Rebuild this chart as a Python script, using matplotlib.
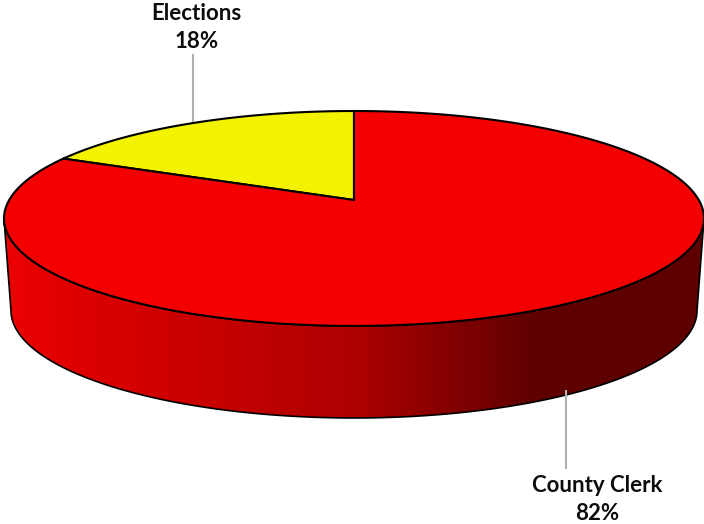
import matplotlib
matplotlib.use('Agg')
import matplotlib.pyplot as plt
import numpy as np
from matplotlib.colors import LinearSegmentedColormap
from matplotlib.patches import Polygon

names = ['Elections', 'County Clerk']
shares = [18, 82]
colors = ['#f3f300', '#f40000']

plt.rcParams['font.family'] = ['Lato', 'DejaVu Sans']

# perspective of the pie top, in pixels of the picture
cx, cy = 354, 200
k, b = 0.172, -69.9
c = 344.8
depth = 92


def project(theta, scale=1.0, drop=0):
    # theta measured from the top of the pie, going to the left
    u = -np.sin(theta)
    v = np.cos(theta)
    w = 1 + k * v
    return cx + scale * c * u / w, (cy + b * v) / w + drop


fig = plt.figure(figsize=(7.04, 5.24), dpi=100)
ax = fig.add_axes([0, 0, 1, 1])
ax.set_xlim(0, 704)
ax.set_ylim(524, 0)
ax.axis('off')

# side wall, gradient clipped to the outline
t = np.linspace(0, 2 * np.pi, 721)
tx, ty = project(t)
bx, by = project(t, scale=0.98, drop=depth)
left = np.argmin(tx)
right = np.argmax(tx)
front_top = np.column_stack([tx[left:right + 1], ty[left:right + 1]])
bl = np.argmin(bx)
br = np.argmax(bx)
front_bot = np.column_stack([bx[bl:br + 1], by[bl:br + 1]])
wall_xy = np.vstack([front_top, front_bot[::-1]])
wall = Polygon(wall_xy, closed=True, facecolor='none', edgecolor='black', lw=1.2, zorder=3)
ax.add_patch(wall)

cmap = LinearSegmentedColormap.from_list('wall', [
    (0.0, '#ec0000'), (0.25, '#cc0000'), (0.5, '#ae0000'),
    (0.76, '#5e0000'), (1.0, '#5e0000')])
img = ax.imshow(np.linspace(0, 1, 512)[None, :], extent=[4, 704, 524, 0], cmap=cmap,
                aspect='auto', zorder=2, vmin=0, vmax=1)
img.set_clip_path(wall)
ax.set_xlim(0, 704)
ax.set_ylim(524, 0)

# top slices
fractions = np.array(shares) / sum(shares)
edges = np.concatenate([[0], np.cumsum(fractions)]) * 2 * np.pi
for i in range(len(shares)):
    th = np.linspace(edges[i], edges[i + 1], 300)
    x, y = project(th)
    pts = np.vstack([[cx, cy], np.column_stack([x, y])])
    ax.add_patch(Polygon(pts, closed=True, facecolor=colors[i], edgecolor='black',
                         lw=1.5, joinstyle='miter', zorder=4))

# leader lines and labels
ax.plot([193, 193], [55, 123], color='#b0b0b0', lw=1.5, zorder=1)
ax.plot([566, 566], [391, 468], color='#b0b0b0', lw=1.5, zorder=5)
ax.text(196.5, 13, names[0], ha='center', va='center', fontsize=16, fontweight='bold', color='#0d0d0d')
ax.text(196.5, 42, f'{shares[0]}%', ha='center', va='center', fontsize=16, fontweight='bold', color='#0d0d0d')
ax.text(597, 485, names[1], ha='center', va='center', fontsize=16, fontweight='bold', color='#0d0d0d')
ax.text(597, 514, f'{shares[1]}%', ha='center', va='center', fontsize=16, fontweight='bold', color='#0d0d0d')

fig.savefig('out.png', dpi=100)
